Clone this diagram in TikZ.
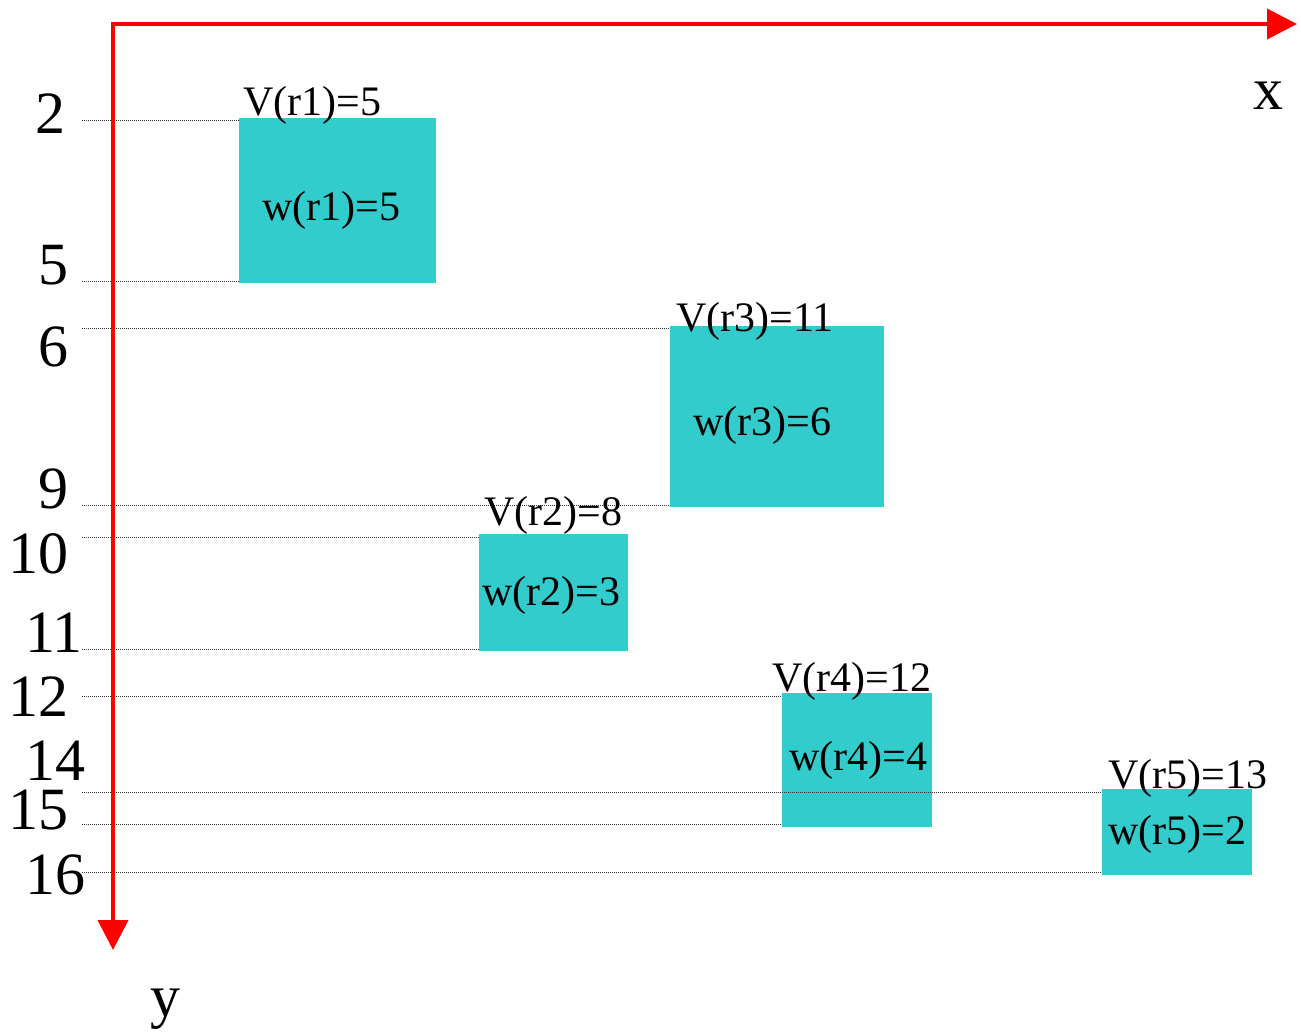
\documentclass[tikz,border=0pt]{standalone}
\usepackage{fontspec}
\setmainfont{Liberation Serif}
\usetikzlibrary{arrows.meta}
\definecolor{boxfill}{HTML}{33CCCC}
\definecolor{axisred}{HTML}{FF0000}
\tikzset{
  axis/.style={draw=axisred, line width=4pt, line join=miter},
  interval/.style={fill=boxfill, draw=none, inner sep=0pt, anchor=north west},
  guide/.style={draw=black!80, line width=1pt, dash pattern=on 1pt off 1pt},
  tick/.style={font=\fontsize{60}{66}\selectfont, inner sep=0pt, anchor=base west},
  vlab/.style={font=\fontsize{42}{48}\selectfont, inner sep=0pt, anchor=base west},
  wlab/.style={font=\fontsize{42}{48}\selectfont, inner sep=0pt, anchor=base west},
}
\begin{document}
\begin{tikzpicture}[x=1pt, y=-1pt]
\useasboundingbox (0,0) rectangle (1301,1031);

% rectangles of the intervals
\node[interval, minimum width=197pt, minimum height=165pt] (r1) at (239,118) {};
\node[interval, minimum width=149pt, minimum height=117pt] (r2) at (479,534) {};
\node[interval, minimum width=214pt, minimum height=181pt] (r3) at (670,326) {};
\node[interval, minimum width=150pt, minimum height=134pt] (r4) at (782,693) {};
\node[interval, minimum width=150pt, minimum height=86pt]  (r5) at (1102,789) {};

% guide lines from the tick labels to the interval edges
\coordinate (g2)  at (82,120);
\coordinate (g5)  at (82,281);
\coordinate (g6)  at (82,328);
\coordinate (g9)  at (82,505);
\coordinate (g10) at (82,537);
\coordinate (g11) at (82,649);
\coordinate (g12) at (82,696);
\coordinate (g15) at (82,792);
\coordinate (g16) at (82,824);
\coordinate (g17) at (82,872);
\draw[guide] (g2)  -- (g2  -| r1.west);
\draw[guide] (g5)  -- (g5  -| r1.west);
\draw[guide] (g6)  -- (g6  -| r3.west);
\draw[guide] (g9)  -- (g9  -| r3.west);
\draw[guide] (g10) -- (g10 -| r2.west);
\draw[guide] (g11) -- (g11 -| r2.west);
\draw[guide] (g12) -- (g12 -| r4.west);
\draw[guide] (g15) -- (g15 -| r5.west);
\draw[guide] (g16) -- (g16 -| r4.west);
\draw[guide] (g17) -- (g17 -| r5.west);

% axes
\coordinate (origin) at (113,24);
\coordinate (xend) at (1297,24);
\coordinate (yend) at (113,950);
\draw[axis, {Triangle[length=30pt, width=30pt]}-{Triangle[length=30pt, width=30pt]}]
  (xend) -- (origin) -- (yend);
\node[tick] (xlab) at (1253,109) {x};
\node[tick] (ylab) at (150,1016) {y};

% tick labels
\node[tick] (t2)  at (35,133)  {2};
\node[tick] (t5)  at (38,284)  {5};
\node[tick] (t6)  at (38,366)  {6};
\node[tick] (t9)  at (38,508)  {9};
\node[tick] (t10) at (8,573)   {10};
\node[tick] (t11) at (25,652)  {11};
\node[tick] (t12) at (8,716)   {12};
\node[tick] (t14) at (25,780)  {14};
\node[tick] (t15) at (8,829)   {15};
\node[tick] (t16) at (25,894)  {16};

% interval labels
\node[vlab] (v1) at (243,115)  {V(r1)=5};
\node[vlab] (v2) at (484,525)  {V(r2)=8};
\node[vlab] (v3) at (676,331)  {V(r3)=11};
\node[vlab] (v4) at (772,691)  {V(r4)=12};
\node[vlab] (v5) at (1108,788) {V(r5)=13};
\node[wlab] (w1) at (262,220)  {w(r1)=5};
\node[wlab] (w2) at (482,605)  {w(r2)=3};
\node[wlab] (w3) at (693,435)  {w(r3)=6};
\node[wlab] (w4) at (789,770)  {w(r4)=4};
\node[wlab] (w5) at (1108,844) {w(r5)=2};
\end{tikzpicture}
\end{document}
